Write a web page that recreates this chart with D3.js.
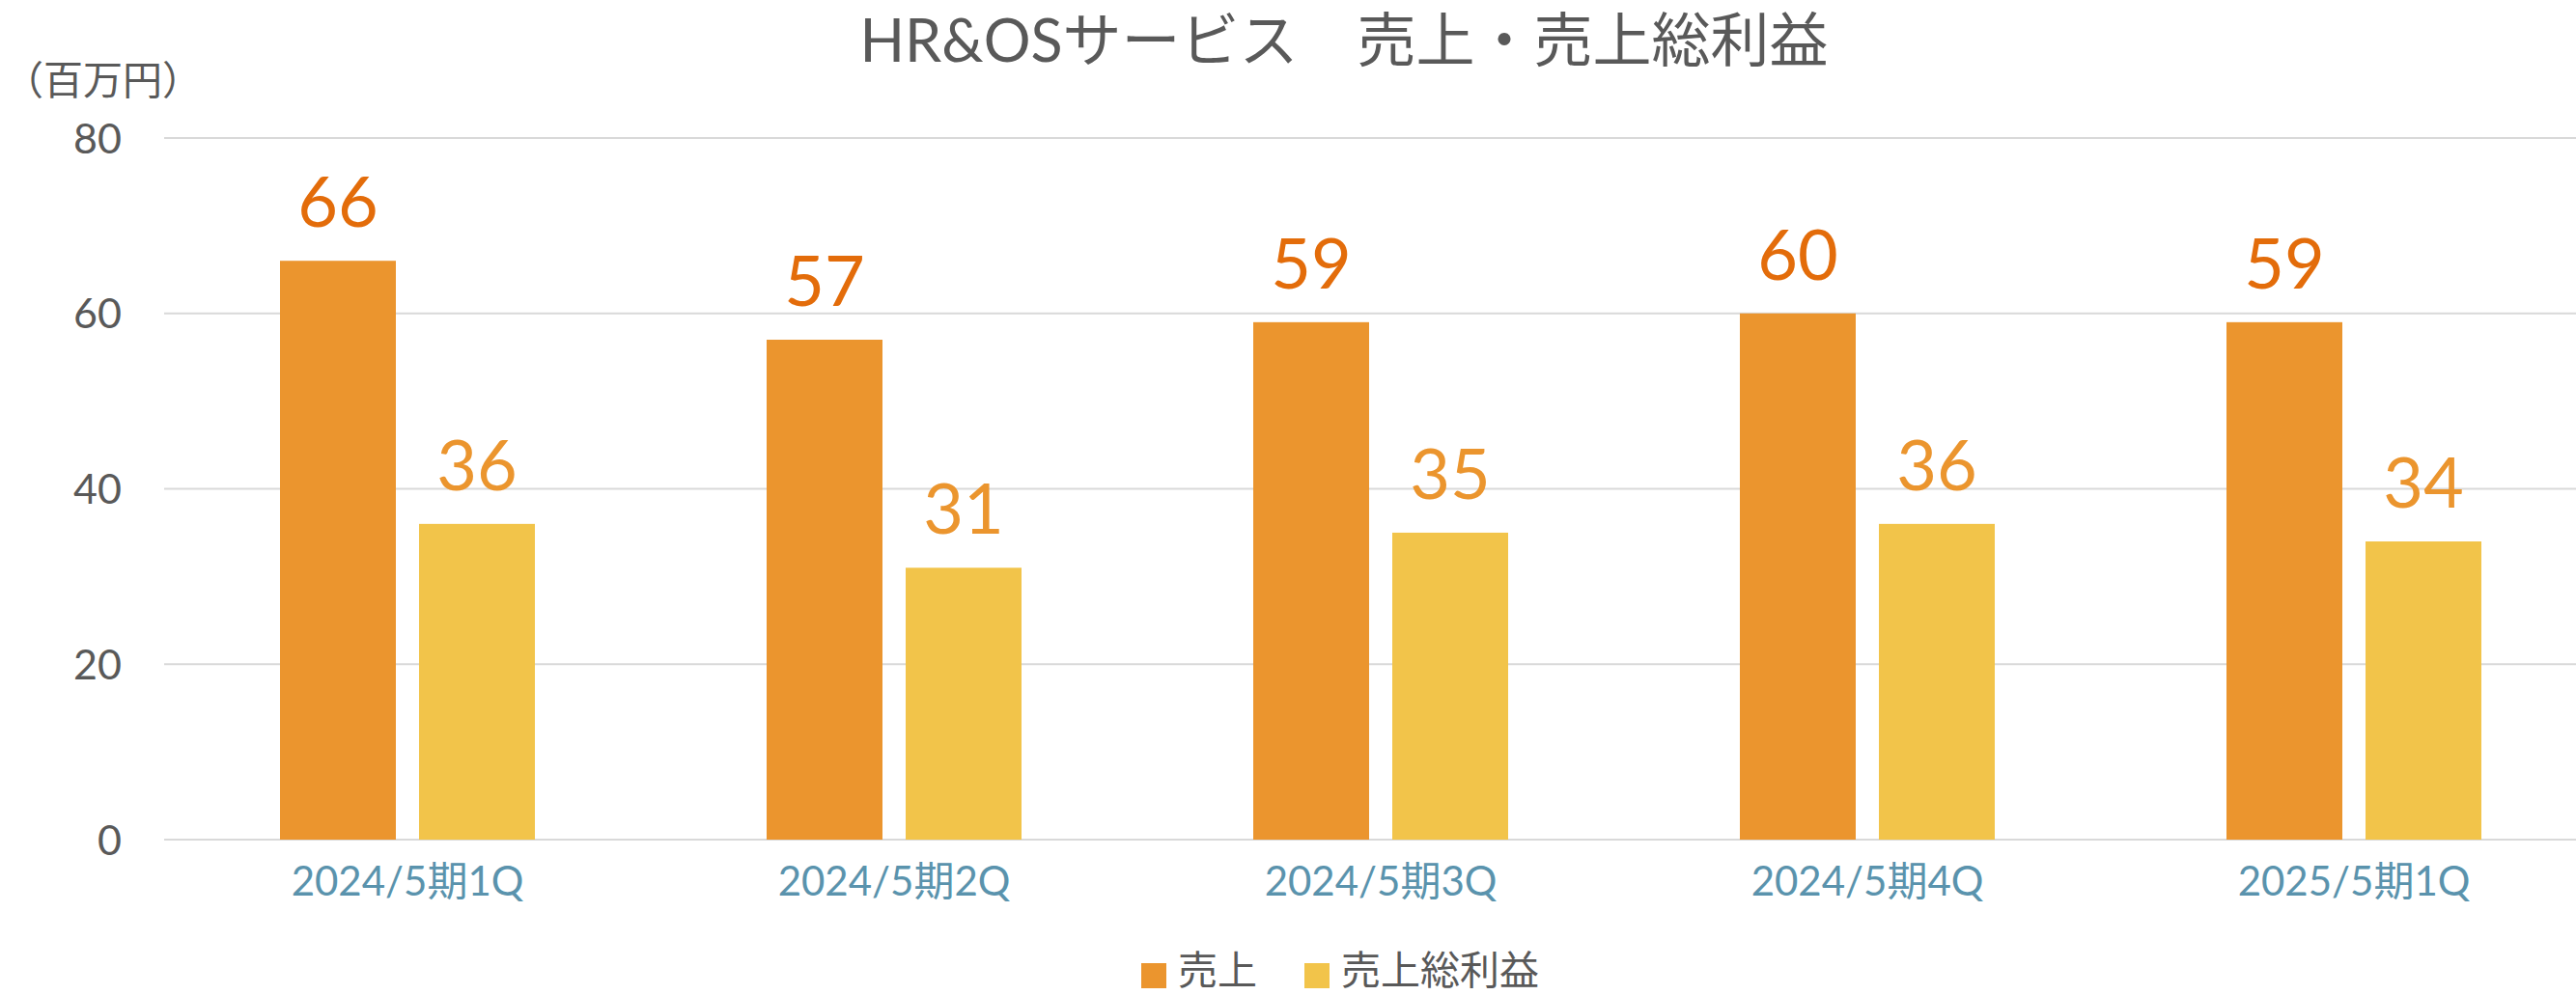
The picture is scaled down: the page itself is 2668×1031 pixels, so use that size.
<!DOCTYPE html>
<html><head><meta charset="utf-8">
<script src="https://cdn.jsdelivr.net/npm/d3@7"></script>
<style>
html,body{margin:0;padding:0;background:#fff;}
svg{display:block;font-family:"Lato","Noto Sans CJK JP",sans-serif;}
</style></head>
<body>
<script>
const categories = ["2024/5期1Q","2024/5期2Q","2024/5期3Q","2024/5期4Q","2025/5期1Q"];
const seriesNames = ["売上","売上総利益"];
const sales = [66,57,59,60,59];
const grossProfit = [36,31,35,36,34];
const yTicks = [0,20,40,60,80];
const title = "HR&OSサービス　売上・売上総利益";
const unitLabel = "（百万円）";

const W = 2668, H = 1031;
const colors = ["#EB952E","#F2C44A"];
const labelColors = ["#E36C0A","#EB952E"];

const svg = d3.select("body").append("svg").attr("width",W).attr("height",H);

const x0 = d3.scaleBand().domain(categories).range([170,2690]).paddingInner(0).paddingOuter(0);
const x1 = d3.scaleBand().domain(seriesNames).range([0,x0.bandwidth()]).paddingInner(1/6).paddingOuter(0.8333);
const y = d3.scaleLinear().domain([0,80]).range([870,143]);

// gridlines
svg.append("g").selectAll("line").data(yTicks).join("line")
  .attr("x1",170).attr("x2",2690)
  .attr("y1",d=>y(d)).attr("y2",d=>y(d))
  .attr("stroke","#D9D9D9").attr("stroke-width",2);

// y axis labels
const yAxis = d3.axisLeft(y).tickValues(yTicks).tickSize(0).tickPadding(0);
const ga = svg.append("g").attr("transform","translate(126,0)").call(yAxis);
ga.select(".domain").remove();
ga.selectAll("text").attr("font-size",43).attr("fill","#595959")
  .attr("font-family","Lato,'Noto Sans CJK JP',sans-serif").attr("dy","0.35em");

// bars
const data = categories.map((c,i)=>({cat:c, vals:[sales[i],grossProfit[i]]}));
const groups = svg.append("g").selectAll("g").data(data).join("g")
  .attr("transform",d=>`translate(${x0(d.cat)},0)`);
groups.selectAll("rect").data(d=>d.vals.map((v,j)=>({s:seriesNames[j],v,j}))).join("rect")
  .attr("x",d=>x1(d.s)).attr("width",x1.bandwidth())
  .attr("y",d=>y(d.v)).attr("height",d=>y(0)-y(d.v))
  .attr("fill",d=>colors[d.j]);
groups.selectAll("text.val").data(d=>d.vals.map((v,j)=>({s:seriesNames[j],v,j}))).join("text")
  .attr("class","val")
  .attr("x",d=>x1(d.s)+x1.bandwidth()/2).attr("y",d=>y(d.v)-35)
  .attr("text-anchor","middle").attr("font-size",72)
  .attr("fill",d=>labelColors[d.j]).text(d=>d.v);

// x axis labels
const xAxis = d3.axisBottom(x0).tickSize(0).tickPadding(0);
const gx = svg.append("g").attr("transform","translate(0,928)").call(xAxis);
gx.select(".domain").remove();
gx.selectAll("text").attr("font-size",42).attr("fill","#5A93AD").attr("dy",0)
  .attr("font-family","Lato,'Noto Sans CJK JP',sans-serif");

// title
svg.append("text").attr("x",1392).attr("y",64).attr("text-anchor","middle")
  .attr("font-size",61).attr("fill","#595959").text(title);

// unit
svg.append("text").attr("x",4).attr("y",98).attr("font-size",41).attr("fill","#595959").text(unitLabel);

// legend
const legendX = [1182,1351];
const lg = svg.append("g").selectAll("g").data(seriesNames).join("g")
  .attr("transform",(d,i)=>`translate(${legendX[i]},0)`);
lg.append("rect").attr("x",0).attr("y",998).attr("width",26).attr("height",26).attr("fill",(d,i)=>colors[i]);
lg.append("text").attr("x",38).attr("y",1020).attr("font-size",41).attr("fill","#595959").text(d=>d);
</script>
</body></html>
